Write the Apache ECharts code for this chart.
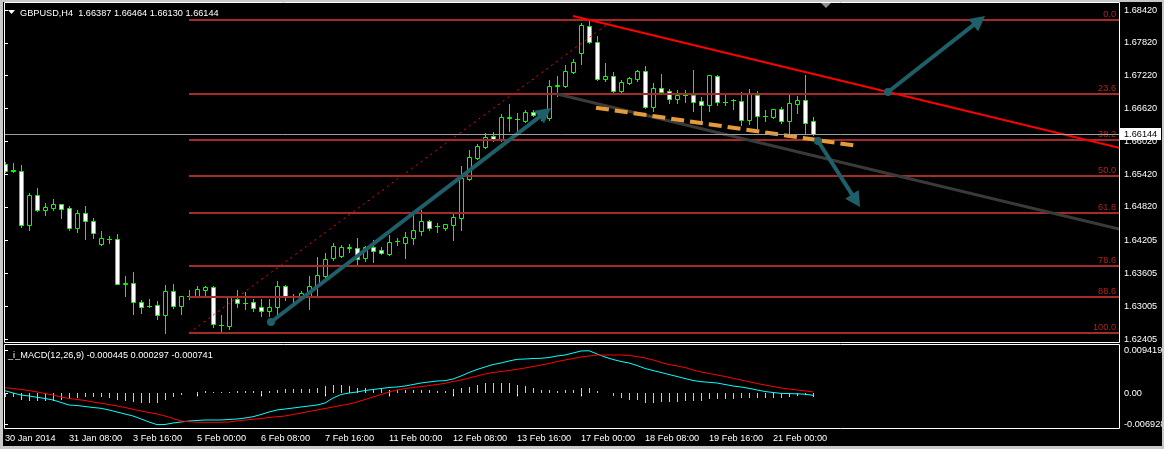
<!DOCTYPE html>
<html><head><meta charset="utf-8">
<script src="https://cdn.jsdelivr.net/npm/echarts@6/dist/echarts.min.js"></script>
<style>html,body{margin:0;padding:0;background:#000;}#c{width:1164px;height:449px;}</style>
</head><body><div id="c"></div>
<script>
// ---------------- DATA ----------------
const symbolTitle = 'GBPUSD,H4';
const ohlcHeader = '1.66387 1.66464 1.66130 1.66144';
const macdTitle = '_i_MACD(12,26,9) -0.000445 0.000297 -0.000741';

const opens = [1.65605,1.65486,1.65477,1.64489,1.65037,1.64763,1.64800,1.64873,1.64800,1.64434,
1.64708,1.64562,1.64142,1.64233,1.64233,1.63411,1.63429,1.63082,1.63009,1.63027,
1.62844,1.63283,1.63009,1.63191,1.63191,1.63301,1.63356,1.62661,1.62642,1.63136,
1.63063,1.63082,1.62990,1.62917,1.62990,1.63375,1.63191,1.63173,1.63173,1.63375,
1.63557,1.63886,1.63923,1.64069,1.64069,1.63886,1.64087,1.64032,1.63959,1.64196,
1.64160,1.64251,1.64379,1.64562,1.64471,1.64434,1.64489,1.64617,1.65331,1.65714,
1.65916,1.66116,1.66061,1.66445,1.66427,1.66391,1.66555,1.66500,1.66445,1.67031,
1.67031,1.67286,1.67634,1.68127,1.67835,1.67158,1.67213,1.66939,1.67085,1.67158,
1.67305,1.66647,1.66994,1.66939,1.66793,1.66866,1.66866,1.66756,1.66683,1.67213,
1.66738,1.66775,1.66756,1.66409,1.66866,1.66482,1.66464,1.66610,1.66391,1.66701,
1.66775,1.66387];
const highs = [1.65641,1.65623,1.65587,1.65074,1.65165,1.64891,1.64964,1.64873,1.64836,1.64763,
1.64836,1.64617,1.64379,1.64288,1.64325,1.63557,1.63630,1.63118,1.63136,1.63100,
1.63393,1.63411,1.63200,1.63301,1.63375,1.63375,1.63375,1.62844,1.63200,1.63301,
1.63264,1.63136,1.63136,1.63136,1.63466,1.63393,1.63228,1.63283,1.63557,1.63904,
1.63977,1.64160,1.64123,1.64142,1.64251,1.64105,1.64215,1.64087,1.64306,1.64251,
1.64361,1.64672,1.64763,1.64580,1.64525,1.64516,1.64727,1.65568,1.65861,1.65970,
1.66171,1.66189,1.66519,1.66701,1.66537,1.66592,1.66592,1.66592,1.67140,1.67213,
1.67414,1.67524,1.68182,1.68237,1.67945,1.67451,1.67286,1.67140,1.67195,1.67323,
1.67396,1.67085,1.67250,1.66976,1.66958,1.66958,1.67323,1.66829,1.67240,1.67232,
1.66866,1.66793,1.66921,1.66976,1.66939,1.66592,1.66619,1.66647,1.66866,1.66848,
1.67232,1.66464];
const lows = [1.65458,1.65458,1.64452,1.64398,1.64745,1.64672,1.64763,1.64617,1.64398,1.64361,
1.64233,1.64251,1.64123,1.64160,1.63402,1.63191,1.62862,1.62880,1.62990,1.62771,
1.62515,1.62972,1.62862,1.63136,1.63173,1.63173,1.62624,1.62520,1.62587,1.62990,
1.62954,1.62917,1.62825,1.62825,1.62862,1.63118,1.63063,1.63118,1.62954,1.63209,
1.63521,1.63850,1.63904,1.63996,1.63777,1.63831,1.63813,1.63959,1.63941,1.64123,
1.63886,1.64142,1.64306,1.64398,1.64361,1.64398,1.64215,1.64398,1.65312,1.65705,
1.65897,1.66025,1.66025,1.66208,1.66208,1.66372,1.66482,1.66409,1.66409,1.66848,
1.67012,1.67277,1.67433,1.67817,1.67149,1.67122,1.66921,1.66921,1.67067,1.67122,
1.66628,1.66573,1.66903,1.66720,1.66720,1.66738,1.66573,1.66409,1.66573,1.66683,
1.66683,1.66610,1.66318,1.66336,1.66263,1.66391,1.66445,1.66354,1.66153,1.66537,
1.66153,1.66130];
const closes = [1.65477,1.65477,1.64489,1.65037,1.64763,1.64818,1.64873,1.64781,1.64434,1.64708,
1.64562,1.64343,1.64251,1.64240,1.63411,1.63420,1.63082,1.62990,1.63000,1.62844,
1.63283,1.63009,1.63191,1.63200,1.63320,1.63356,1.62679,1.62670,1.63191,1.63063,
1.63072,1.62972,1.62917,1.62990,1.63375,1.63173,1.63182,1.63246,1.63375,1.63575,
1.63868,1.64105,1.64087,1.64078,1.63868,1.64087,1.64014,1.63977,1.64178,1.64205,
1.64270,1.64398,1.64562,1.64434,1.64480,1.64507,1.64635,1.65349,1.65733,1.65934,
1.66098,1.66043,1.66464,1.66455,1.66436,1.66555,1.66500,1.66455,1.67031,1.67040,
1.67305,1.67469,1.68146,1.67835,1.67158,1.67213,1.66939,1.67104,1.67177,1.67305,
1.66647,1.66994,1.66921,1.66793,1.66866,1.66857,1.66738,1.66683,1.67232,1.66738,
1.66747,1.66766,1.66409,1.66884,1.66482,1.66491,1.66610,1.66391,1.66720,1.66775,
1.66354,1.66144];

const macdMain = [0.000575,0.000066,-0.000376,-0.000597,-0.000885,-0.001150,-0.001482,-0.002035,-0.002588,-0.002699,
-0.002920,-0.003141,-0.003318,-0.003694,-0.004136,-0.004579,-0.005021,-0.005685,-0.006348,-0.006928,
-0.006901,-0.006570,-0.006348,-0.006127,-0.006017,-0.005906,-0.005906,-0.005906,-0.005795,-0.005685,
-0.005464,-0.005176,-0.004689,-0.004136,-0.003694,-0.003473,-0.003252,-0.003030,-0.002809,-0.002588,
-0.002146,-0.001040,-0.000265,0.000066,0.000288,0.000619,0.000841,0.001062,0.001283,0.001394,
0.001615,0.001947,0.002278,0.002500,0.002721,0.002787,0.003163,0.003827,0.004601,0.005265,
0.005818,0.006371,0.006702,0.007145,0.007521,0.007587,0.007698,0.007742,0.007919,0.008251,
0.008472,0.008914,0.009357,0.009419,0.008693,0.008030,0.007477,0.007034,0.006702,0.006149,
0.005486,0.005043,0.004601,0.004159,0.003716,0.003274,0.002831,0.002566,0.002433,0.002278,
0.001947,0.001615,0.001394,0.001106,0.000730,0.000398,0.000177,-0.000020,-0.000060,-0.000120,
-0.000200,-0.000445];
const macdSignal = [0.001239,0.001062,0.000841,0.000619,0.000288,-0.000044,-0.000376,-0.000818,-0.001150,-0.001371,
-0.001593,-0.001924,-0.002212,-0.002477,-0.002809,-0.003141,-0.003539,-0.003915,-0.004247,-0.004579,
-0.005021,-0.005574,-0.006127,-0.006282,-0.006415,-0.006415,-0.006415,-0.006415,-0.006348,-0.006127,
-0.005906,-0.005751,-0.005574,-0.005353,-0.005176,-0.005021,-0.004689,-0.004358,-0.004026,-0.003694,
-0.003362,-0.003030,-0.002699,-0.002367,-0.001924,-0.001371,-0.000818,-0.000265,0.000288,0.000730,
0.001062,0.001283,0.001460,0.001725,0.001947,0.002212,0.002610,0.002942,0.003384,0.003827,
0.004269,0.004601,0.004822,0.005043,0.005309,0.005596,0.005928,0.006260,0.006592,0.007034,
0.007366,0.007698,0.008030,0.008251,0.008472,0.008472,0.008472,0.008472,0.008361,0.008140,
0.007808,0.007366,0.006813,0.006371,0.006039,0.005707,0.005154,0.004712,0.004380,0.004048,
0.003716,0.003318,0.002942,0.002566,0.002168,0.001836,0.001504,0.001172,0.000951,0.000730,
0.000553,0.000297];
const macdHist = [-0.00073,-0.00088,-0.00148,-0.00161,-0.00170,-0.00170,-0.00170,-0.00148,-0.00133,-0.00111,
-0.00088,-0.00088,-0.00088,-0.00111,-0.00148,-0.00170,-0.00192,-0.00215,-0.00215,-0.00206,
-0.00148,-0.00088,-0.00044,0.00007,0.00022,0.00044,0.00038,0.00022,0.00038,0.00044,
0.00044,0.00044,0.00051,0.00060,0.00073,0.00095,0.00095,0.00088,0.00095,0.00126,
0.00155,0.00177,0.00177,0.00155,0.00126,0.00111,0.00095,0.00088,0.00082,0.00073,
0.00073,0.00073,0.00073,0.00073,0.00051,0.00051,0.00088,0.00126,0.00139,0.00177,
0.00237,0.00237,0.00237,0.00237,0.00177,0.00161,0.00111,0.00073,0.00066,0.00051,
0.00066,0.00073,0.00111,0.00111,0.00051,0.00002,-0.00051,-0.00111,-0.00155,-0.00155,
-0.00206,-0.00206,-0.00192,-0.00192,-0.00192,-0.00177,-0.00177,-0.00177,-0.00117,-0.00117,
-0.00117,-0.00117,-0.00095,-0.00095,-0.00095,-0.00095,-0.00095,-0.00095,-0.00073,-0.00060,
-0.00044,-0.000741];

const timeLabels = ['30 Jan 2014','31 Jan 08:00','3 Feb 16:00','5 Feb 00:00','6 Feb 08:00','7 Feb 16:00',
  '11 Feb 00:00','12 Feb 08:00','13 Feb 16:00','17 Feb 00:00','18 Feb 08:00','19 Feb 16:00','21 Feb 00:00'];
const barsPerTimeLabel = 8;
const priceTicks = [1.68420,1.67820,1.67220,1.66620,1.66020,1.65420,1.64820,1.64205,1.63605,1.63005,1.62405];
const macdTicks = [0.009419, 0, -0.006928];

// chart objects (bar index, price)
const fibHigh = 1.68237, fibLow = 1.62515, fibStartIdx = 23, fibEndIdx = 76;
const fibLevels = [0, 23.6, 38.2, 50, 61.8, 78.6, 88.6, 100];
const fibLabels = ['0.0','23.6','38.2','50.0','61.8','78.6','88.6','100.0'];
const redTrend = [[71, 1.68310], [139.25, 1.65902]];
const greyTrend = [[69, 1.66884], [139.25, 1.64416]];
const orangeTrend = [[73.875, 1.66634], [106.625, 1.65934]];
const arrows = [
  [[33.25, 1.62716], [68.25, 1.66628]],
  [[110.375, 1.66921], [122.5, 1.68310]],
  [[101.625, 1.66025], [106.875, 1.64818]]
];

// ---------------- CHART ----------------
const X_MIN = -0.125, X_MAX = 139.25;
const FONT_FAMILY = "'Liberation Sans',Arial,sans-serif";
const FS = 9.2;
const FONT = FS + 'px ' + FONT_FAMILY;

const candleData = opens.map((o, i) => [i, o, highs[i], lows[i], closes[i]]);
const histData = macdHist.map((v, i) => [i, v]);
const mainData = macdMain.map((v, i) => [i, v]);
const sigData = macdSignal.map((v, i) => [i, v]);
const timeTickIdx = timeLabels.map((_, k) => k * barsPerTimeLabel);
const lastPrice = closes[closes.length - 1];

function candleItem(params, api) {
  const i = api.value(0), o = api.value(1), h = api.value(2), l = api.value(3), c = api.value(4);
  const pO = api.coord([i, o]), pC = api.coord([i, c]), pH = api.coord([i, h]), pL = api.coord([i, l]);
  const x = Math.round(pO[0]);
  const green = '#00ff00';
  const ch = [];
  ch.push({type: 'line', shape: {x1: x + 0.5, y1: Math.round(pH[1]), x2: x + 0.5, y2: Math.round(pL[1]) + 1},
    style: {stroke: green, lineWidth: 1}});
  const top = Math.round(Math.min(pO[1], pC[1])), bot = Math.round(Math.max(pO[1], pC[1]));
  if (bot - top < 1) {
    ch.push({type: 'line', shape: {x1: x - 2, y1: top + 0.5, x2: x + 3, y2: top + 0.5}, style: {stroke: green, lineWidth: 1}});
  } else {
    ch.push({type: 'rect', shape: {x: x - 1.5, y: top + 0.5, width: 4, height: bot - top},
      style: {fill: c > o ? '#000000' : '#ffffff', stroke: green, lineWidth: 1}});
  }
  return {type: 'group', children: ch};
}

function histItem(params, api) {
  const i = api.value(0), v = api.value(1);
  const p0 = api.coord([i, 0]), p1 = api.coord([i, v]);
  const x = Math.round(p0[0]) + 0.5;
  return {type: 'line', shape: {x1: x, y1: Math.round(p0[1]), x2: x, y2: Math.round(p1[1])},
    style: {stroke: '#c8c8c8', lineWidth: 1}};
}

function textEl(x, y, text, fill, align, valign) {
  return {type: 'text', x: x, y: y, style: {text: text, fill: fill, font: FONT, align: align, verticalAlign: valign,
    textAlign: align, textVerticalAlign: valign}};
}

function fibItem(params, api) {
  const right = api.coord([X_MAX, fibHigh])[0];
  const ch = [];
  fibLevels.forEach((lv, k) => {
    const price = fibHigh - lv / 100 * (fibHigh - fibLow);
    const p = api.coord([fibStartIdx, price]);
    const y = Math.round(p[1]);
    ch.push({type: 'line', shape: {x1: p[0], y1: y, x2: right, y2: y}, style: {stroke: '#a52a2a', lineWidth: 2}});
    ch.push(textEl(right - 3, y - 1, fibLabels[k], '#b22222', 'right', 'bottom'));
  });
  const a = api.coord([fibStartIdx, fibLow]), b = api.coord([fibEndIdx, fibHigh]);
  ch.push({type: 'line', shape: {x1: a[0], y1: a[1], x2: b[0], y2: b[1]},
    style: {stroke: '#ff0000', lineWidth: 1, lineDash: [2, 4]}});
  return {type: 'group', children: ch};
}

function arrowShapes(s, e, color) {
  const dx = e[0] - s[0], dy = e[1] - s[1], len = Math.hypot(dx, dy);
  const ux = dx / len, uy = dy / len, hl = 15, hw = 8;
  const bx = e[0] - ux * hl, by = e[1] - uy * hl;
  return [
    {type: 'line', shape: {x1: s[0], y1: s[1], x2: bx + ux * 3, y2: by + uy * 3}, style: {stroke: color, lineWidth: 4}},
    {type: 'circle', shape: {cx: s[0], cy: s[1], r: 4}, style: {fill: color}},
    {type: 'polygon', shape: {points: [[e[0], e[1]], [bx - uy * hw, by + ux * hw], [bx + uy * hw, by - ux * hw]]}, style: {fill: color}}
  ];
}

function objectsItem(params, api) {
  const ch = [];
  const line = (pts, style) => {
    const a = api.coord(pts[0]), b = api.coord(pts[1]);
    ch.push({type: 'line', shape: {x1: a[0], y1: a[1], x2: b[0], y2: b[1]}, style: style});
  };
  line(greyTrend, {stroke: '#3a3a3a', lineWidth: 3});
  line(redTrend, {stroke: '#ff0000', lineWidth: 2});
  line(orangeTrend, {stroke: '#e39b3c', lineWidth: 4, lineDash: [13, 6]});
  arrows.forEach(ar => {
    arrowShapes(api.coord(ar[0]), api.coord(ar[1]), '#1e5f69').forEach(s => ch.push(s));
  });
  return {type: 'group', children: ch};
}

function bidItem(params, api) {
  const p = api.coord([X_MIN, lastPrice]), r = api.coord([X_MAX, lastPrice]);
  const y = Math.round(p[1]) + 0.5;
  return {type: 'group', children: [
    {type: 'line', shape: {x1: p[0], y1: y, x2: r[0], y2: y}, style: {stroke: '#a0a0a0', lineWidth: 1}},
    {type: 'rect', shape: {x: r[0] + 1, y: y - 6.5, width: 41, height: 12}, style: {fill: '#ffffff'}},
    textEl(r[0] + 5, y, lastPrice.toFixed(5), '#000000', 'left', 'middle')
  ]};
}

const chart = echarts.init(document.getElementById('c'), null, {renderer: 'canvas'});
const axisLabelBase = {color: '#ffffff', fontFamily: FONT_FAMILY, fontSize: FS, hideOverlap: false};
chart.setOption({
  backgroundColor: '#000000',
  animation: false,
  grid: [
    {left: 4, top: 4, width: 1115, height: 338, outerBoundsMode: 'none'},
    {left: 4, top: 345, width: 1115, height: 84, outerBoundsMode: 'none'}
  ],
  xAxis: [
    {type: 'value', gridIndex: 0, min: X_MIN, max: X_MAX, show: false},
    {type: 'value', gridIndex: 1, min: X_MIN, max: X_MAX,
      axisLine: {show: false}, splitLine: {show: false},
      axisTick: {show: true, length: 3, lineStyle: {color: '#ffffff'}, customValues: timeTickIdx},
      axisLabel: Object.assign({}, axisLabelBase, {customValues: timeTickIdx, align: 'left', margin: 5,
        formatter: v => timeLabels[Math.round(v / barsPerTimeLabel)] || ''})}
  ],
  yAxis: [
    {type: 'value', gridIndex: 0, position: 'right', min: 1.623502, max: 1.685297,
      axisLine: {show: false}, splitLine: {show: false},
      axisTick: {show: true, length: 3, lineStyle: {color: '#ffffff'}, customValues: priceTicks},
      axisLabel: Object.assign({}, axisLabelBase, {customValues: priceTicks, margin: 5, formatter: v => v.toFixed(5)})},
    {type: 'value', gridIndex: 1, position: 'right', min: -0.007897, max: 0.010684,
      axisLine: {show: false}, splitLine: {show: false},
      axisTick: {show: true, length: 3, lineStyle: {color: '#ffffff'}, customValues: macdTicks},
      axisLabel: Object.assign({}, axisLabelBase, {customValues: macdTicks, margin: 5,
        formatter: v => (Math.abs(v) < 1e-12 ? '0.00' : v.toFixed(6))})}
  ],
  series: [
    {type: 'custom', name: 'fib', xAxisIndex: 0, yAxisIndex: 0, data: [[0, fibHigh]], renderItem: fibItem, clip: true, z: 3, silent: true},
    {type: 'custom', name: 'candles', xAxisIndex: 0, yAxisIndex: 0, data: candleData,
      encode: {x: 0, y: [1, 2, 3, 4]}, renderItem: candleItem, clip: true, z: 2, silent: true},
    {type: 'custom', name: 'objects', xAxisIndex: 0, yAxisIndex: 0, data: [[0, fibHigh]], renderItem: objectsItem, clip: true, z: 4, silent: true},
    {type: 'custom', name: 'bid', xAxisIndex: 0, yAxisIndex: 0, data: [[0, lastPrice]], renderItem: bidItem, clip: false, z: 50, silent: true},
    {type: 'custom', name: 'hist', xAxisIndex: 1, yAxisIndex: 1, data: histData, encode: {x: 0, y: 1}, renderItem: histItem, z: 2, silent: true},
    {type: 'line', name: 'main', xAxisIndex: 1, yAxisIndex: 1, data: mainData, showSymbol: false, symbol: 'none',
      lineStyle: {color: '#00ffff', width: 1}, z: 3, silent: true},
    {type: 'line', name: 'signal', xAxisIndex: 1, yAxisIndex: 1, data: sigData, showSymbol: false, symbol: 'none',
      lineStyle: {color: '#ff0000', width: 1}, z: 4, silent: true}
  ],
  graphic: [
    {type: 'rect', shape: {x: 0, y: 0, width: 1164, height: 2}, style: {fill: '#c8c8c8'}, z: 100, silent: true},
    {type: 'rect', shape: {x: 0, y: 0, width: 3, height: 449}, style: {fill: '#c8c8c8'}, z: 100, silent: true},
    {type: 'rect', shape: {x: 0, y: 446, width: 1164, height: 3}, style: {fill: '#c8c8c8'}, z: 100, silent: true},
    {type: 'rect', shape: {x: 1162, y: 0, width: 2, height: 449}, style: {fill: '#c8c8c8'}, z: 100, silent: true},
    {type: 'rect', shape: {x: 4.5, y: 2.5, width: 1115, height: 340}, style: {fill: null, stroke: '#ffffff', lineWidth: 1}, z: 90, silent: true},
    {type: 'rect', shape: {x: 4.5, y: 344.5, width: 1115, height: 84}, style: {fill: null, stroke: '#ffffff', lineWidth: 1}, z: 90, silent: true},
    {type: 'polygon', shape: {points: [[8, 10], [15, 10], [11.5, 14]]}, style: {fill: '#ffffff'}, z: 90, silent: true},
    {type: 'text', x: 20, y: 13, style: {text: symbolTitle + '  ' + ohlcHeader, fill: '#ffffff', font: FONT, verticalAlign: 'middle'}, z: 90, silent: true},
    {type: 'text', x: 8, y: 355, style: {text: macdTitle, fill: '#ffffff', font: FONT, verticalAlign: 'middle'}, z: 90, silent: true},
    {type: 'polygon', shape: {points: [[821, 3], [831, 3], [826, 8]]}, style: {fill: '#909090'}, z: 90, silent: true}
  ]
});
</script></body></html>
